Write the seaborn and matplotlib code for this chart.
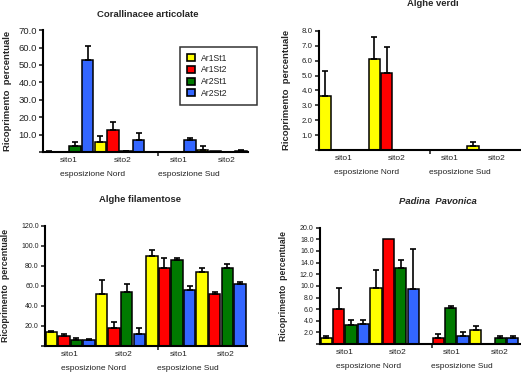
import numpy as np
import pandas as pd
import matplotlib
matplotlib.use('Agg')
import matplotlib.pyplot as plt
from matplotlib.patches import Patch
import seaborn as sns

# gruppi: esposizione Nord (sito1, sito2), esposizione Sud (sito1, sito2)
gruppi = ['N-sito1', 'N-sito2', 'S-sito1', 'S-sito2']
serie = ['Ar1St1', 'Ar1St2', 'Ar2St1', 'Ar2St2']
colori = ['#FFFF00', '#FF0000', '#007A00', '#3366FF']
tick_siti = ['sito1', 'sito2', 'sito1', 'sito2']
esposizioni = ['esposizione Nord', 'esposizione Sud']

# Corallinacee articolate
cor_val = {'Ar1St1': [0.3, 5.8, 0.0, 1.3],
           'Ar1St2': [0.0, 12.9, 0.0, 0.4],
           'Ar2St1': [3.5, 0.5, 0.0, 0.2],
           'Ar2St2': [52.8, 6.7, 6.7, 0.5]}
cor_err = {'Ar1St1': [0.3, 3.2, 0.0, 2.2],
           'Ar1St2': [0.0, 4.4, 0.0, 0.0],
           'Ar2St1': [2.3, 0.2, 0.0, 0.0],
           'Ar2St2': [8.2, 4.4, 1.5, 0.5]}

# Alghe verdi
ver_val = {'Ar1St1': [3.6, 6.1, 0.0, 0.25],
           'Ar1St2': [0.0, 5.15, 0.0, 0.0],
           'Ar2St1': [0.0, 0.0, 0.0, 0.0],
           'Ar2St2': [0.0, 0.0, 0.0, 0.0]}
ver_err = {'Ar1St1': [1.7, 1.5, 0.0, 0.25],
           'Ar1St2': [0.0, 1.75, 0.0, 0.0],
           'Ar2St1': [0.0, 0.0, 0.0, 0.0],
           'Ar2St2': [0.0, 0.0, 0.0, 0.0]}

# Alghe filamentose
fil_val = {'Ar1St1': [14.3, 52.0, 90.0, 74.0],
           'Ar1St2': [10.3, 17.7, 78.3, 52.0],
           'Ar2St1': [6.0, 54.3, 86.0, 78.3],
           'Ar2St2': [6.0, 12.0, 55.7, 62.3]}
fil_err = {'Ar1St1': [0.5, 14.0, 6.0, 4.3],
           'Ar1St2': [1.7, 6.6, 10.0, 2.0],
           'Ar2St1': [2.0, 7.7, 1.7, 4.0],
           'Ar2St2': [0.5, 6.3, 4.6, 1.7]}

# Padina Pavonica
pad_val = {'Ar1St1': [1.1, 9.7, 0.0, 2.5],
           'Ar1St2': [6.0, 18.0, 1.1, 0.0],
           'Ar2St1': [3.2, 13.1, 6.2, 1.1],
           'Ar2St2': [3.5, 9.4, 1.4, 1.1]}
pad_err = {'Ar1St1': [0.3, 3.0, 0.0, 0.6],
           'Ar1St2': [3.7, 0.0, 0.6, 0.0],
           'Ar2St1': [0.9, 1.4, 0.4, 0.3],
           'Ar2St2': [0.6, 6.9, 0.7, 0.3]}

sns.set_style('white')
plt.rcParams['font.family'] = ['Liberation Sans', 'DejaVu Sans']

fig = plt.figure(figsize=(5.21, 3.72), dpi=100)


def pannello(rect, val, err, ymax, ystep, xmax, tick_fs, ylab_fs, ylab_x):
    ax = fig.add_axes(rect)
    righe = []
    for s in serie:
        for g, v, e in zip(gruppi, val[s], err[s]):
            righe.append({'gruppo': g, 'serie': s, 'val': v, 'err': e})
    df = pd.DataFrame(righe)
    sns.barplot(data=df, x='gruppo', y='val', hue='serie', order=gruppi,
                hue_order=serie, palette=colori, saturation=1, width=1.0,
                gap=0.1, edgecolor='black', linewidth=1.1, errorbar=None,
                legend=False, ax=ax)
    # barre di errore solo verso l'alto
    for p, (_, r) in zip(ax.patches, df.iterrows()):
        if r['err'] > 0:
            xc = p.get_x() + p.get_width() / 2
            ax.errorbar([xc], [p.get_height()], yerr=[[0], [r['err']]],
                        fmt='none', ecolor='black', elinewidth=1.2,
                        capsize=2.3, capthick=1.2, clip_on=False)
    ax.set_xlim(-0.5, xmax)
    ax.set_ylim(0, ymax)
    yt = np.arange(0, ymax + ystep / 2, ystep)
    ax.set_yticks(yt)
    ax.set_yticklabels([''] + ['%.1f' % t for t in yt[1:]], fontsize=tick_fs,
                       color='#222222')
    ax.set_xticks([0, 1.07, 2.15, 3.1])
    ax.set_xticklabels(tick_siti, fontsize=6.0, color='#222222')
    ax.set_xticks([1.75], minor=True)
    ax.tick_params(axis='x', which='major', length=0, pad=3.5)
    ax.tick_params(axis='x', which='minor', length=3, width=1.2, direction='out',
                   bottom=True)
    ax.tick_params(axis='y', length=3, width=1.2, direction='out', left=True,
                   pad=1.5)
    for xx, lab in zip([0.47, 2.35], esposizioni):
        ax.annotate(lab, xy=(xx, 0), xycoords=('data', 'axes fraction'),
                    xytext=(0, -16), textcoords='offset points',
                    ha='center', va='center', fontsize=6.0, color='#222222')
    sns.despine(ax=ax)
    for sp in ['left', 'bottom']:
        ax.spines[sp].set_linewidth(1.5)
        ax.spines[sp].set_color('black')
    ax.set_xlabel('')
    ax.set_ylabel('Ricoprimento  percentuale', fontsize=ylab_fs,
                  fontweight='bold')
    ax.yaxis.set_label_coords(ylab_x, 0.5)
    return ax


ax1 = pannello([0.0825, 0.591, 0.394, 0.328], cor_val, cor_err, 70, 10, 3.52,
               6.8, 6.8, -0.15)
ax2 = pannello([0.612, 0.597, 0.39, 0.32], ver_val, ver_err, 8, 1, 3.62,
               5.7, 6.8, -0.135)
ax3 = pannello([0.0864, 0.070, 0.388, 0.323], fil_val, fil_err, 120, 20, 3.52,
               5.0, 6.4, -0.173)
ax4 = pannello([0.614, 0.075, 0.39, 0.313], pad_val, pad_err, 20, 2, 3.58,
               5.0, 6.2, -0.158)

fig.text(0.284, 0.960, 'Corallinacee articolate', ha='center', va='center',
         fontsize=6.8, fontweight='bold')
fig.text(0.831, 0.99, 'Alghe verdi', ha='center', va='center',
         fontsize=6.8, fontweight='bold')
fig.text(0.269, 0.465, 'Alghe filamentose', ha='center', va='center',
         fontsize=6.8, fontweight='bold')
fig.text(0.841, 0.457, 'Padina  Pavonica', ha='center', va='center',
         fontsize=6.8, fontweight='bold', style='italic')

maniglie = [Patch(facecolor=c, edgecolor='black', linewidth=1.2) for c in colori]
leg = ax1.legend(maniglie, serie, loc='upper left',
                 bbox_to_anchor=(180 / 521, 1 - 103 / 372, 77 / 521, 56 / 372),
                 bbox_transform=fig.transFigure, mode='expand', frameon=True,
                 fancybox=False, fontsize=6.2, handlelength=0.9,
                 handleheight=0.9, handletextpad=0.7, labelspacing=0.3,
                 borderpad=0.8, borderaxespad=0)
leg.get_frame().set_edgecolor('black')
leg.get_frame().set_linewidth(1.1)
for t in leg.get_texts():
    t.set_color('#222222')

fig.savefig('out.png', dpi=100)
